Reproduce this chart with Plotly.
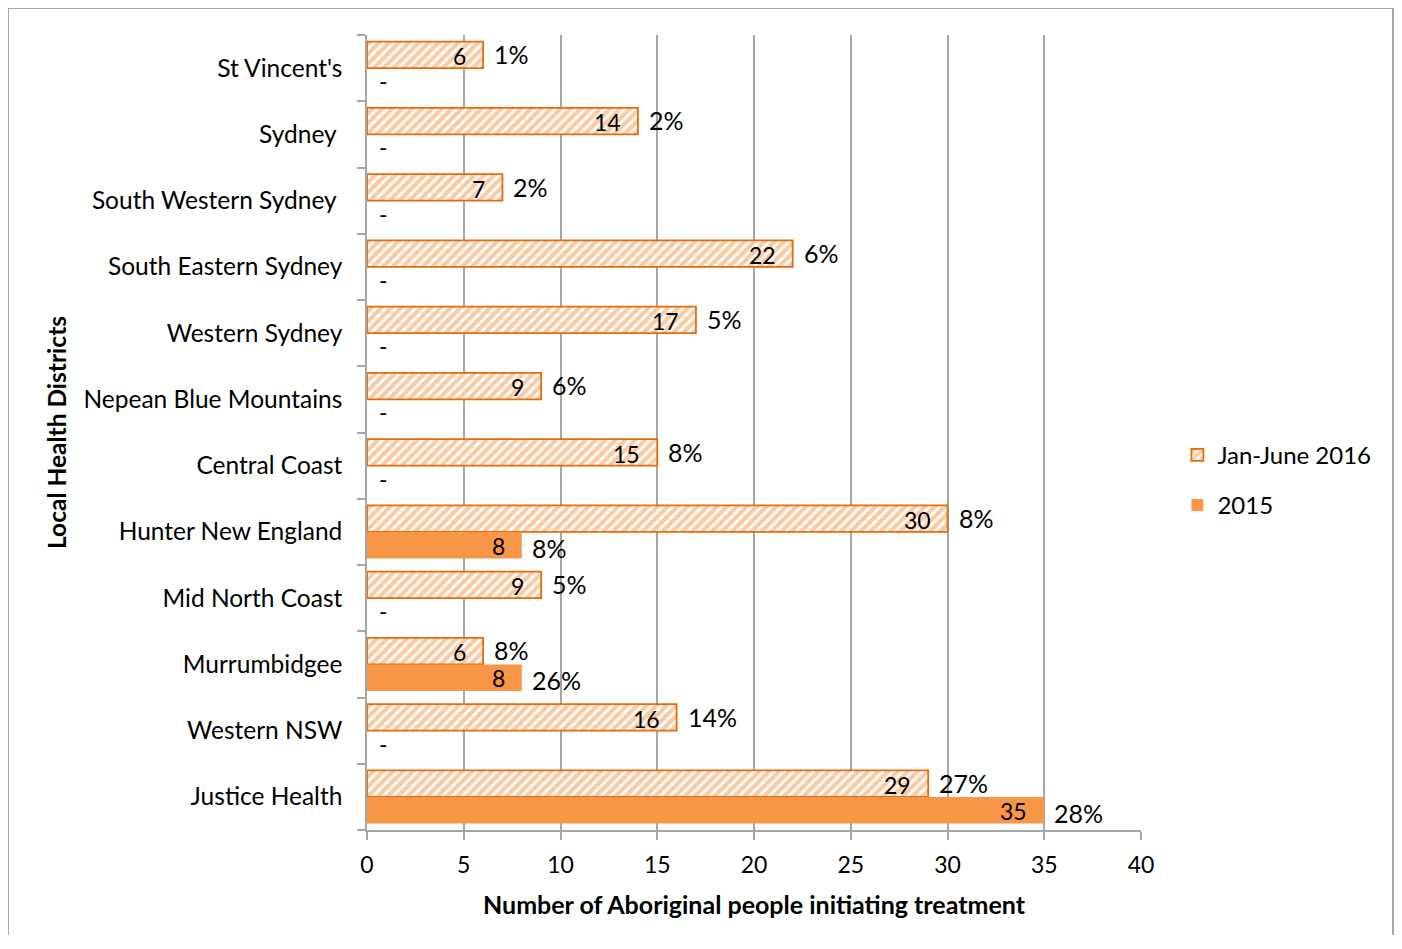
import plotly.graph_objects as go

categories = ["St Vincent's", "Sydney", "South Western Sydney", "South Eastern Sydney",
              "Western Sydney", "Nepean Blue Mountains", "Central Coast", "Hunter New England",
              "Mid North Coast", "Murrumbidgee", "Western NSW", "Justice Health"]
tick_labels = ["St Vincent's", "Sydney\u00a0", "South Western Sydney\u00a0", "South Eastern Sydney",
               "Western Sydney", "Nepean Blue Mountains", "Central Coast", "Hunter New England",
               "Mid North Coast", "Murrumbidgee", "Western NSW", "Justice Health"]
vals_2016 = [6, 14, 7, 22, 17, 9, 15, 30, 9, 6, 16, 29]
pct_2016 = ["1%", "2%", "2%", "6%", "5%", "6%", "8%", "8%", "5%", "8%", "14%", "27%"]
vals_2015 = [0, 0, 0, 0, 0, 0, 0, 8, 0, 8, 0, 35]
pct_2015 = ["", "", "", "", "", "", "", "8%", "", "26%", "", "28%"]

FONT = "Lato, Carlito, Calibri, sans-serif"
ORANGE = "#F79646"
DARK_ORANGE = "#E46C0A"
GRID = "#A6A6A6"

fig = go.Figure()

fig.add_trace(go.Bar(
    name="Jan-June 2016", y=categories, x=vals_2016, orientation="h",
    legendgroup="a",
    marker=dict(color="white", line=dict(color=DARK_ORANGE, width=1.8),
                pattern=dict(shape="/", fgcolor=ORANGE, bgcolor="white",
                             size=7, solidity=0.6, fillmode="overlay")),
    hoverinfo="skip",
))
fig.add_trace(go.Bar(
    name="2015", y=categories, x=vals_2015, orientation="h",
    legendgroup="b",
    marker=dict(color=ORANGE, line=dict(width=0)),
    hoverinfo="skip",
))

annotations = []
lab_font = dict(family=FONT, size=23, color="black")
pct_font = dict(family=FONT, size=25, color="black")
for c, v, p in zip(categories, vals_2016, pct_2016):
    annotations.append(dict(x=v, y=c, xref="x", yref="y", text=str(v), showarrow=False,
                            xanchor="right", xshift=-15, yshift=12, font=lab_font))
    annotations.append(dict(x=v, y=c, xref="x", yref="y", text=p, showarrow=False,
                            xanchor="left", xshift=9, yshift=14, font=pct_font))
for c, v, p in zip(categories, vals_2015, pct_2015):
    if v > 0:
        annotations.append(dict(x=v, y=c, xref="x", yref="y", text=str(v), showarrow=False,
                                xanchor="right", xshift=-15, yshift=-14, font=lab_font))
    else:
        annotations.append(dict(x=v, y=c, xref="x", yref="y", text="-", showarrow=False,
                                xanchor="left", xshift=10, yshift=-13, font=lab_font))
    if p:
        annotations.append(dict(x=v, y=c, xref="x", yref="y", text=p, showarrow=False,
                                xanchor="left", xshift=8, yshift=-16, font=pct_font))

fig.update_layout(
    width=1386, height=933, autosize=False,
    margin=dict(l=359, r=253, t=27, b=111),
    paper_bgcolor="white", plot_bgcolor="white",
    barmode="group", bargap=0.2, bargroupgap=0.0,
    font=dict(family=FONT, size=22, color="black"),
    showlegend=True,
    legend=dict(x=1.047, y=0.44, xanchor="left", yanchor="middle",
                font=dict(family=FONT, size=24, color="black"),
                traceorder="grouped", tracegroupgap=16, itemwidth=30,
                bgcolor="rgba(0,0,0,0)"),
    annotations=annotations,
    shapes=[dict(type="path", xref="paper", yref="paper",
                 path="M -0.4638,-0.132 L -0.4638,1.034 L 1.3256,1.034 L 1.3256,-0.132",
                 line=dict(color="#8C8C8C", width=1.5), fillcolor="rgba(0,0,0,0)",
                 layer="below")],
)

fig.update_xaxes(
    range=[0, 40], dtick=5, tick0=0,
    showgrid=True, gridcolor=GRID, gridwidth=1.5,
    showline=True, linecolor=GRID, linewidth=1.5,
    ticks="outside", ticklen=8, tickcolor=GRID, tickwidth=1.5,
    tickfont=dict(family=FONT, size=23, color="black"),
    ticklabelstandoff=6,
    zeroline=False,
    title=dict(text="<b>Number of Aboriginal people initiating treatment</b>",
               font=dict(family=FONT, size=25, color="black"), standoff=19),
)
fig.update_yaxes(
    categoryorder="array", categoryarray=categories,
    tickmode="array", tickvals=categories, ticktext=tick_labels,
    autorange="reversed",
    showgrid=False, showline=True, linecolor=GRID, linewidth=1.5,
    ticks="outside", ticklen=8, tickcolor=GRID, tickwidth=1.5, tickson="boundaries",
    tickfont=dict(family=FONT, size=24.5, color="black"),
    ticklabelstandoff=18,
    title=dict(text="<b>Local Health Districts</b>",
               font=dict(family=FONT, size=24.5, color="black"), standoff=10),
)

fig.write_html("out.html")
